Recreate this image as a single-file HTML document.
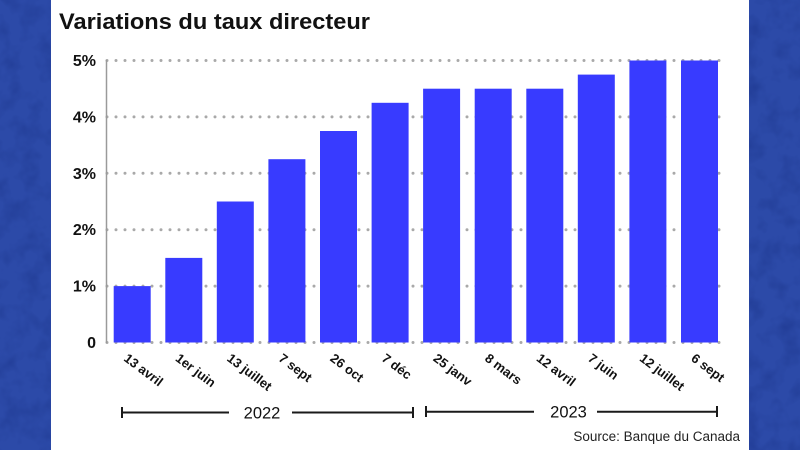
<!DOCTYPE html>
<html>
<head>
<meta charset="utf-8">
<style>
  html, body { margin:0; padding:0; }
  body { width:800px; height:450px; overflow:hidden; background:#2c4aa8; }
  svg { display:block; }
</style>
</head>
<body>
<svg width="800" height="450" viewBox="0 0 800 450" xmlns="http://www.w3.org/2000/svg">
  <defs>
    <filter id="tex" x="0" y="0" width="100%" height="100%" color-interpolation-filters="sRGB">
      <feTurbulence type="fractalNoise" baseFrequency="0.05" numOctaves="3" seed="7" result="n"/>
      <feColorMatrix type="matrix" values="0 0 0 0 0.11  0 0 0 0 0.21  0 0 0 0 0.55  0 0 0 1.6 -0.7" />
    </filter>
  </defs>
  <rect x="0" y="0" width="800" height="450" fill="#2c4aa8"/>
  <rect x="0" y="0" width="800" height="450" filter="url(#tex)" opacity="0.7"/>
  <!-- white panel -->
  <rect x="51" y="0" width="698" height="450" fill="#ffffff"/>

  <!-- title -->
  <text x="59" y="29" font-family="Liberation Sans, sans-serif" font-weight="bold" font-size="22" fill="#111" textLength="311" lengthAdjust="spacingAndGlyphs">Variations du taux directeur</text>

  <!-- grid dotted lines -->
  <g stroke="#a9a9a9" stroke-width="3" stroke-linecap="round" stroke-dasharray="0 9" fill="none">
    <line x1="107" y1="60.5" x2="726" y2="60.5"/>
    <line x1="107" y1="116.9" x2="726" y2="116.9"/>
    <line x1="107" y1="173.3" x2="726" y2="173.3"/>
    <line x1="107" y1="229.7" x2="726" y2="229.7"/>
    <line x1="107" y1="286.1" x2="726" y2="286.1"/>
    <line x1="107" y1="342.5" x2="726" y2="342.5"/>
  </g>
  <!-- y axis line -->
  <line x1="106.5" y1="60" x2="106.5" y2="343" stroke="#9a9a9a" stroke-width="1.5"/>

  <!-- y labels -->
  <g font-family="Liberation Sans, sans-serif" font-weight="bold" font-size="16" fill="#111" text-anchor="end">
    <text x="96" y="66">5%</text>
    <text x="96" y="122.4">4%</text>
    <text x="96" y="178.8">3%</text>
    <text x="96" y="235.2">2%</text>
    <text x="96" y="291.6">1%</text>
    <text x="96" y="348">0</text>
  </g>

  <!-- bars -->
  <g fill="#383bff">
    <rect x="113.7" y="286.1" width="37" height="56.4"/>
    <rect x="165.3" y="257.9" width="37" height="84.6"/>
    <rect x="216.8" y="201.5" width="37" height="141"/>
    <rect x="268.4" y="159.2" width="37" height="183.3"/>
    <rect x="320.0" y="131.0" width="37" height="211.5"/>
    <rect x="371.6" y="102.8" width="37" height="239.7"/>
    <rect x="423.1" y="88.7" width="37" height="253.8"/>
    <rect x="474.7" y="88.7" width="37" height="253.8"/>
    <rect x="526.3" y="88.7" width="37" height="253.8"/>
    <rect x="577.8" y="74.6" width="37" height="267.9"/>
    <rect x="629.4" y="60.5" width="37" height="282"/>
    <rect x="681.0" y="60.5" width="37" height="282"/>
  </g>

  <!-- x labels -->
  <g font-family="Liberation Sans, sans-serif" font-weight="bold" font-size="13" fill="#111">
    <text transform="translate(123,360) rotate(37)">13 avril</text>
    <text transform="translate(174.6,360) rotate(37)">1er juin</text>
    <text transform="translate(226.1,360) rotate(37)">13 juillet</text>
    <text transform="translate(277.7,360) rotate(37)">7 sept</text>
    <text transform="translate(329.3,360) rotate(37)">26 oct</text>
    <text transform="translate(380.9,360) rotate(37)">7 déc</text>
    <text transform="translate(432.4,360) rotate(37)">25 janv</text>
    <text transform="translate(484.0,360) rotate(37)">8 mars</text>
    <text transform="translate(535.6,360) rotate(37)">12 avril</text>
    <text transform="translate(587.1,360) rotate(37)">7 juin</text>
    <text transform="translate(638.7,360) rotate(37)">12 juillet</text>
    <text transform="translate(690.3,360) rotate(37)">6 sept</text>
  </g>

  <!-- year brackets -->
  <g stroke="#1a1a1a" stroke-width="2" fill="none">
    <line x1="122" y1="412.5" x2="229" y2="412.5"/>
    <line x1="292" y1="412.5" x2="413" y2="412.5"/>
    <line x1="122" y1="407" x2="122" y2="418"/>
    <line x1="413" y1="407" x2="413" y2="418"/>
    <line x1="426" y1="411.7" x2="534" y2="411.7"/>
    <line x1="597" y1="411.7" x2="717" y2="411.7"/>
    <line x1="426" y1="406" x2="426" y2="417"/>
    <line x1="717" y1="406" x2="717" y2="417"/>
  </g>
  <g font-family="Liberation Sans, sans-serif" font-size="16.5" fill="#111" text-anchor="middle">
    <text x="262" y="418.5">2022</text>
    <text x="568.5" y="417.5">2023</text>
  </g>

  <!-- source -->
  <text x="740" y="441" text-anchor="end" font-family="Liberation Sans, sans-serif" font-size="13.5" fill="#222">Source: Banque du Canada</text>
</svg>
</body>
</html>
